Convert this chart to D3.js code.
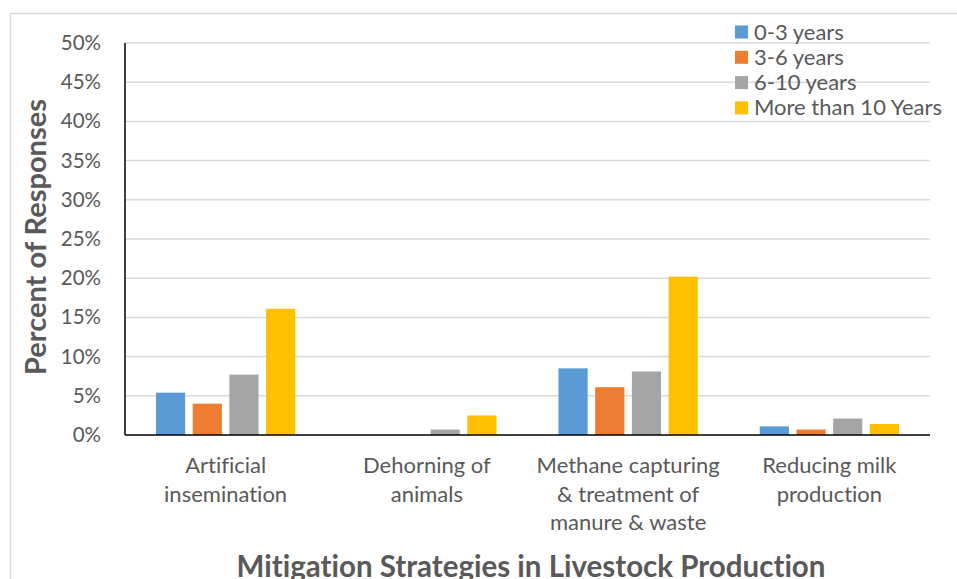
<!DOCTYPE html>
<html>
<head>
<meta charset="utf-8">
<script src="https://cdn.jsdelivr.net/npm/d3@7"></script>
<style>
  html, body { margin: 0; padding: 0; background: #fff; }
  svg { display: block; }
  text { font-family: Lato, "Open Sans", "Noto Sans", sans-serif; fill: #595959; font-variant-ligatures: none; }
</style>
</head>
<body>
<svg id="chart" width="957" height="579"></svg>
<script>
// Mitigation strategies and share of responses by years of experience
const categories = [
  ["Artificial", "insemination"],
  ["Dehorning of", "animals"],
  ["Methane capturing", "& treatment of", "manure & waste"],
  ["Reducing milk", "production"]
];
const seriesNames = ["0-3 years", "3-6 years", "6-10 years", "More than 10 Years"];
const seriesColors = ["#5B9BD5", "#ED7D31", "#A5A5A5", "#FFC000"];
const years0to3 = [5.4, 0.0, 8.5, 1.1];
const years3to6 = [4.0, 0.0, 6.1, 0.7];
const years6to10 = [7.7, 0.7, 8.1, 2.1];
const yearsOver10 = [16.1, 2.5, 20.2, 1.4];
const yTicks = [0, 5, 10, 15, 20, 25, 30, 35, 40, 45, 50];

const seriesValues = [years0to3, years3to6, years6to10, yearsOver10];

const svg = d3.select("#chart");
const plot = { left: 125, right: 930, top: 43, bottom: 435 };

// outer frame
svg.append("rect")
  .attr("x", 10.5).attr("y", 13.5)
  .attr("width", 960).attr("height", 600)
  .attr("fill", "none").attr("stroke", "#D9D9D9").attr("stroke-width", 1.5);

const x0 = d3.scaleBand()
  .domain(d3.range(categories.length))
  .range([plot.left, plot.right])
  .paddingInner(0.308).paddingOuter(0.154);

const x1 = d3.scaleBand()
  .domain(d3.range(seriesNames.length))
  .range([0, x0.bandwidth()])
  .paddingInner(0.205).paddingOuter(0);

const y = d3.scaleLinear().domain([0, 50]).range([plot.bottom, plot.top]);

// gridlines
svg.append("g")
  .selectAll("line")
  .data(yTicks.filter(t => t > 0))
  .join("line")
  .attr("x1", plot.left).attr("x2", plot.right)
  .attr("y1", d => y(d)).attr("y2", d => y(d))
  .attr("stroke", "#D9D9D9").attr("stroke-width", 1.5);

// y axis tick labels
const yAxis = d3.axisLeft(y).tickValues(yTicks).tickSize(0).tickPadding(24)
  .tickFormat(d => d + "%");
svg.append("g")
  .attr("transform", `translate(${plot.left},0)`)
  .call(yAxis)
  .call(g => g.select(".domain").remove())
  .selectAll("text")
  .style("font-family", "Lato, 'Open Sans', sans-serif")
  .attr("font-size", 20.5).attr("fill", "#595959");

// bars
const groups = svg.append("g")
  .selectAll("g")
  .data(categories.map((c, i) => i))
  .join("g")
  .attr("transform", i => `translate(${x0(i)},0)`);

groups.selectAll("rect")
  .data(i => seriesValues.map((s, k) => ({ k, v: s[i] })))
  .join("rect")
  .attr("x", d => x1(d.k))
  .attr("width", x1.bandwidth())
  .attr("y", d => y(d.v))
  .attr("height", d => y(0) - y(d.v))
  .attr("fill", d => seriesColors[d.k]);

// axis lines
svg.append("line")
  .attr("x1", plot.left).attr("x2", plot.left)
  .attr("y1", plot.top).attr("y2", plot.bottom)
  .attr("stroke", "#000").attr("stroke-width", 1.5);
svg.append("line")
  .attr("x1", plot.left).attr("x2", plot.right)
  .attr("y1", plot.bottom).attr("y2", plot.bottom)
  .attr("stroke", "#000").attr("stroke-width", 1.5);

// category labels
const catLabels = svg.append("g")
  .selectAll("text")
  .data(categories)
  .join("text")
  .attr("text-anchor", "middle")
  .attr("font-size", 22)
  .attr("x", (d, i) => x0(i) + x0.bandwidth() / 2)
  .attr("y", 473);
catLabels.selectAll("tspan")
  .data(d => d)
  .join("tspan")
  .attr("x", function () { return d3.select(this.parentNode).attr("x"); })
  .attr("dy", (d, j) => j === 0 ? 0 : 28.5)
  .text(d => d);

// axis titles
svg.append("text")
  .attr("transform", "translate(46,237) rotate(-90)")
  .attr("text-anchor", "middle")
  .attr("font-size", 29).attr("font-weight", "bold")
  .text("Percent of Responses");

svg.append("text")
  .attr("x", 531).attr("y", 577)
  .attr("text-anchor", "middle")
  .attr("font-size", 29.5).attr("font-weight", "bold")
  .text("Mitigation Strategies in Livestock Production");

// legend
const legend = svg.append("g")
  .selectAll("g")
  .data(seriesNames)
  .join("g")
  .attr("transform", (d, i) => `translate(735,${32 + i * 25.3})`);
legend.append("rect")
  .attr("x", 0).attr("y", -6.5).attr("width", 13).attr("height", 13)
  .attr("fill", (d, i) => seriesColors[i]);
legend.append("text")
  .attr("x", 19).attr("y", 7.5)
  .attr("font-size", 22)
  .text(d => d);
</script>
</body>
</html>
